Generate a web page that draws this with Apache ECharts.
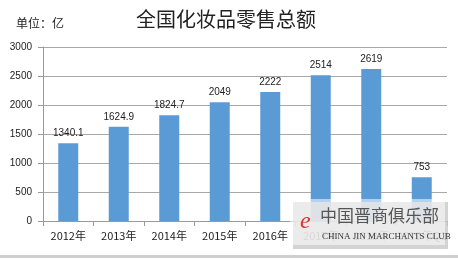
<!DOCTYPE html>
<html><head><meta charset="utf-8">
<script src="https://cdn.jsdelivr.net/npm/echarts@6/dist/echarts.min.js"></script>
<style>html,body{margin:0;padding:0;background:#fff}#c{width:458px;height:259px}</style>
</head><body><div id="c"></div>
<script>
const categories = ['2012年','2013年','2014年','2015年','2016年','2017年','2018年','2019年Q1'];
const values = [1340.1, 1624.9, 1824.7, 2049, 2222, 2514, 2619, 753];
const yTicks = [0, 500, 1000, 1500, 2000, 2500, 3000];
const titleText = '全国化妆品零售总额';
const unitText = '单位：亿';

const cjk = '"Noto Sans CJK SC", "Liberation Sans", sans-serif';
const chart = echarts.init(document.getElementById('c'));
chart.setOption({
  animation: false,
  backgroundColor: '#fff',
  title: [
    {text: titleText, left: 131, top: 4, textStyle: {fontFamily: cjk, fontSize: 20, fontWeight: 'normal', color: '#222'}},
    {text: unitText, left: 11, top: 12, textStyle: {fontFamily: cjk, fontSize: 12, fontWeight: 'normal', color: '#222'}}
  ],
  grid: {left: 43, right: 11, top: 47, bottom: 38, containLabel: false},
  xAxis: {
    type: 'category', data: categories,
    axisLine: {lineStyle: {color: '#9a9a9a', width: 1}},
    axisTick: {show: true, length: 5, lineStyle: {color: '#9a9a9a'}},
    axisLabel: {interval: 0, fontFamily: cjk, fontSize: 11, color: '#222', margin: 9}
  },
  yAxis: {
    type: 'value', min: yTicks[0], max: yTicks[yTicks.length - 1], interval: 500,
    axisLine: {show: true, lineStyle: {color: '#9a9a9a', width: 1}},
    axisTick: {show: true, length: 5, lineStyle: {color: '#9a9a9a'}},
    axisLabel: {formatter: v => String(v), fontFamily: '"Liberation Sans", sans-serif', fontSize: 10, color: '#222', margin: 11},
    splitLine: {lineStyle: {color: '#a8a8a8', width: 1}}
  },
  series: [{
    type: 'bar', data: values, barWidth: 20,
    itemStyle: {color: '#5b9bd5'},
    label: {show: true, position: 'top', distance: 5, fontFamily: '"Liberation Sans", sans-serif', fontSize: 10, color: '#222'}
  }],
  graphic: [
    {type: 'rect', shape: {x: 293, y: 202, width: 155, height: 47}, style: {fill: 'rgba(200,200,200,0.8)'}, z: 9},
    {type: 'rect', shape: {x: 290, y: 199, width: 155, height: 46}, style: {fill: 'rgba(255,255,255,0.55)'}, z: 10},
    {type: 'text', x: 300, y: 210, style: {text: 'e', fontFamily: '"Liberation Serif", serif', fontStyle: 'italic', fontSize: 24, fill: '#e03030'}, z: 11},
    {type: 'text', x: 320, y: 207, style: {text: '中国晋商俱乐部', fontFamily: cjk, fontSize: 17, fill: '#555'}, z: 11},
    {type: 'text', x: 322, y: 232, style: {text: 'CHINA JIN MARCHANTS CLUB', fontFamily: '"Liberation Serif", serif', fontSize: 9, fill: '#333'}, z: 11},
    {type: 'rect', shape: {x: 0, y: 255, width: 458, height: 3}, style: {fill: '#cfcfcf'}, z: 11}
  ]
});
</script></body></html>
